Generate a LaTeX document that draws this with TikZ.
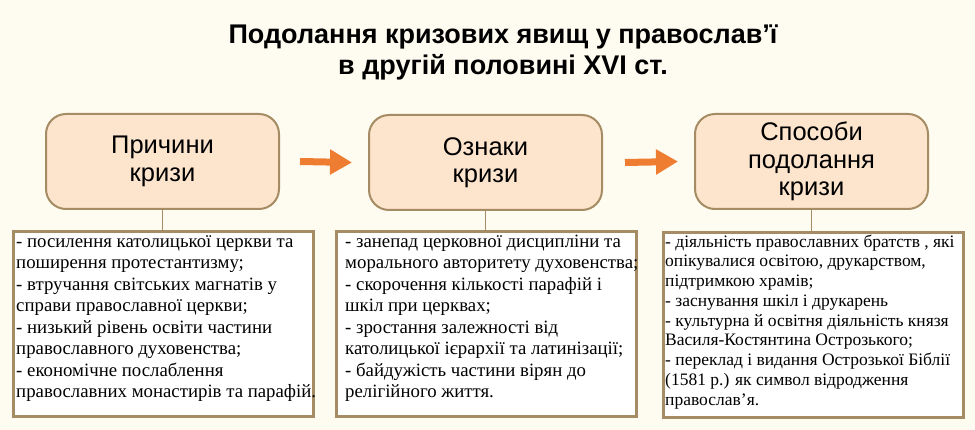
\documentclass[tikz,border=0pt]{standalone}
\usepackage{fontspec}
\setmainfont{Liberation Serif}
\newfontfamily\headfont{Liberation Sans}
\usetikzlibrary{positioning}
\usetikzlibrary{arrows.meta}
\definecolor{bg}{RGB}{254,252,240}
\definecolor{peach}{RGB}{252,228,205}
\definecolor{frame}{RGB}{166,140,100}
\definecolor{arrow}{RGB}{238,125,49}

\begin{document}
\begin{tikzpicture}[
		x=1pt, y=-1pt,
		head/.style = {rectangle, rounded corners=20pt, draw=frame, fill=peach, line width=2pt,
			minimum width=233pt, minimum height=95pt, align=center,
			font=\headfont\fontsize{25.5}{27.5}\selectfont},
		list/.style = {rectangle, draw=frame, fill=white, line width=3pt,
			minimum width=300pt, minimum height=185pt},
		txt/.style = {anchor=north west, align=left, inner sep=0pt,
			font=\fontsize{18.8}{21.5}\selectfont},
		r/.style = {-{Triangle[length=22pt, width=24pt]}, arrow, line width=7pt},
		c/.style = {draw=frame, line width=1.5pt}
		]
		
		\fill[bg] (0,0) rectangle (975,430);
		\useasboundingbox (0,0) rectangle (975,430);
		
		%Title
		\node[align=center, font=\headfont\bfseries\fontsize{27}{31}\selectfont]
			(title) at (503, 52) {Подолання кризових явищ у православ’ї\\в другій половині XVI ст.};
		
		%Nodes
		\node[head]	(cause)	at	(162.5, 161.5)	{Причини\\кризи};
		\node[head]	(sign)	at	(485.5, 162.5)	{Ознаки\\кризи};
		\node[head]	(way)	at	(811.5, 161.5)	{Способи\\подолання\\кризи};
		\node[list]	(list1)	at	(163.5, 324)	{};
		\node[list]	(list2)	at	(486.5, 324)	{};
		\node[list]	(list3)	at	(813.5, 325)	{};
		
		%Texts
		\node[txt]	(text1)	at	(16, 232)	{\rule{0pt}{15pt}- посилення католицької церкви та\\поширення протестантизму;\\- втручання світських магнатів у\\справи православної церкви;\\- низький рівень освіти частини\\православного духовенства;\\- економічне послаблення\\православних монастирів та парафій.};
		\node[txt]	(text2)	at	(345, 232)	{\rule{0pt}{15pt}- занепад церковної дисципліни та\\морального авторитету духовенства;\\- скорочення кількості парафій і\\шкіл при церквах;\\- зростання залежності від\\католицької ієрархії та латинізації;\\- байдужість частини вірян до\\релігійного життя.};
		\node[txt, font=\fontsize{17.5}{19.75}\selectfont]	(text3)	at	(665, 232)	{\rule{0pt}{15pt}- діяльність православних братств , які\\опікувалися освітою, друкарством,\\підтримкою храмів;\\- заснування шкіл і друкарень\\- культурна й освітня діяльність князя\\Василя-Костянтина Острозького;\\- переклад і видання Острозької Біблії\\(1581 р.) як символ відродження\\православ’я.};
		
		%Lines
		\draw[c]	(cause.south)	--	(cause.south |- list1.north);
		\draw[c]	(sign.south)	--	(sign.south |- list2.north);
		\draw[c]	(way.south)	--	(way.south |- list3.north);
		\draw[r]	([xshift=20pt]cause.east)	--	([xshift=-16pt]sign.west);
		\draw[r]	([xshift=22pt]sign.east)	--	([xshift=-16pt]way.west);
	\end{tikzpicture}
\end{document}
